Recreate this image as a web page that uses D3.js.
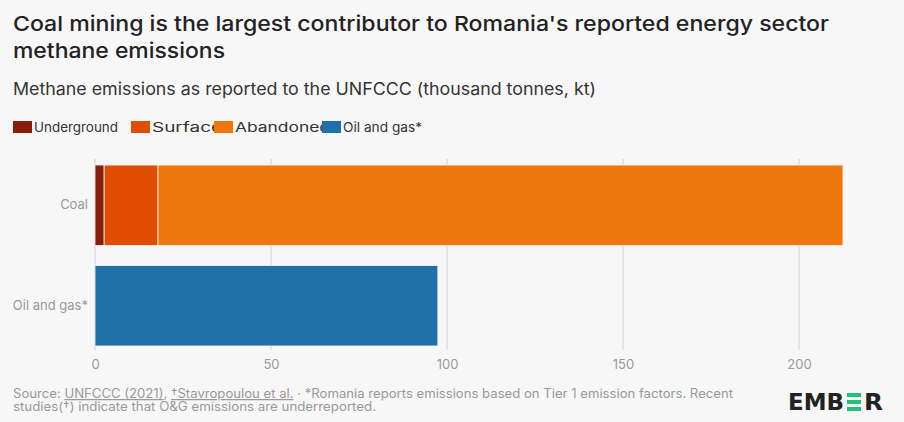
<!DOCTYPE html>
<html><head><meta charset="utf-8">
<script src="https://cdn.jsdelivr.net/npm/d3@7"></script>
<style>body{margin:0;background:#f7f7f7;font-family:Inter,"Noto Sans",sans-serif}</style>
</head><body><svg></svg>
<script>
var categories = ["Coal", "Oil and gas*"];
var series = ["Underground", "Surface", "Abandoned", "Oil and gas*"];
var colors = ["#8a1c0a", "#e04e03", "#ee760c", "#1f6fab"];
var underground = [2.6, 0];
var surface = [15.3, 0];
var abandoned = [194.6, 0];
var oilgas = [0, 97.4];
var xTicks = [0, 50, 100, 150, 200];

var W = 904, H = 422;
var svg = d3.select("svg").attr("width", W).attr("height", H);
svg.append("rect").attr("width", W).attr("height", H).attr("fill", "#f7f7f7");

svg.append("text").attr("x", 13).attr("y", 31).attr("font-size", 20.5).attr("fill", "#222").attr("font-weight", 500)
    .attr("textLength", 816).attr("lengthAdjust", "spacingAndGlyphs")
    .text("Coal mining is the largest contributor to Romania's reported energy sector");
svg.append("text").attr("x", 13).attr("y", 58).attr("font-size", 20.5).attr("fill", "#222").attr("font-weight", 500)
    .attr("textLength", 212).attr("lengthAdjust", "spacingAndGlyphs")
    .text("methane emissions");
svg.append("text").attr("x", 13).attr("y", 95).attr("font-size", 17).attr("fill", "#333")
    .attr("textLength", 583).attr("lengthAdjust", "spacingAndGlyphs")
    .text("Methane emissions as reported to the UNFCCC (thousand tonnes, kt)");

// legend
var lx = [13, 131, 214, 322];
var lw = [84, 70, 95, 79];
series.forEach(function(s, i) {
    var g = svg.append("g").attr("transform", "translate(" + lx[i] + ",121)");
    g.append("rect").attr("width", 19).attr("height", 12).attr("fill", colors[i]);
    g.append("text").attr("x", 21).attr("y", 11).attr("font-size", 13).attr("fill", "#333")
        .attr("textLength", lw[i]).attr("lengthAdjust", "spacingAndGlyphs").text(s);
});

var x = d3.scaleLinear().domain([0, 200]).range([95, 799]);
var y = d3.scaleBand().domain(categories).range([160, 351]).paddingInner(0.2).paddingOuter(0.05);

svg.append("g").selectAll("line").data(xTicks).enter().append("line")
    .attr("x1", function(d) { return x(d); }).attr("x2", function(d) { return x(d); })
    .attr("y1", 159).attr("y2", 350).attr("stroke", "#d6d6d6").attr("stroke-width", 1.2);

var rows = categories.map(function(c, i) {
    return { cat: c, Underground: underground[i], Surface: surface[i], Abandoned: abandoned[i], "Oil and gas*": oilgas[i] };
});
var stack = d3.stack().keys(series)(rows);
stack.forEach(function(layer, k) {
    svg.append("g").selectAll("rect").data(layer).enter().append("rect")
        .attr("x", function(d) { return x(d[0]); })
        .attr("width", function(d) { return Math.max(0, x(d[1]) - x(d[0])); })
        .attr("y", function(d) { return y(d.data.cat); })
        .attr("height", y.bandwidth())
        .attr("fill", colors[k])
        .attr("stroke", "#f7f7f7").attr("stroke-width", function(d) { return d[1] > d[0] ? 0.8 : 0; });
});

var ax = svg.append("g").attr("transform", "translate(0,350)")
    .call(d3.axisBottom(x).tickValues(xTicks).tickSize(0).tickPadding(10));
ax.select(".domain").remove();
ax.selectAll("text").attr("font-size", 13).attr("fill", "#999").attr("font-family", "Inter,'Noto Sans',sans-serif");

var ay = svg.append("g").attr("transform", "translate(88,0)")
    .call(d3.axisLeft(y).tickSize(0).tickPadding(0));
ay.select(".domain").remove();
ay.selectAll("text").attr("font-size", 13).attr("fill", "#999").attr("font-family", "Inter,'Noto Sans',sans-serif");

var src = svg.append("text").attr("x", 13).attr("y", 398).attr("font-size", 12.5).attr("fill", "#999")
    .attr("textLength", 720).attr("lengthAdjust", "spacingAndGlyphs");
src.append("tspan").text("Source: ");
src.append("tspan").attr("text-decoration", "underline").text("UNFCCC (2021)");
src.append("tspan").text(", ");
src.append("tspan").attr("text-decoration", "underline").text("\u2020Stavropoulou et al.");
src.append("tspan").text(" \u00b7 *Romania reports emissions based on Tier 1 emission factors. Recent");
svg.append("text").attr("x", 13).attr("y", 411).attr("font-size", 12.5).attr("fill", "#999")
    .attr("textLength", 363).attr("lengthAdjust", "spacingAndGlyphs")
    .text("studies(\u2020) indicate that O&G emissions are underreported.");

// logo
var logo = svg.append("g").attr("font-size", 23).attr("font-weight", 800).attr("fill", "#222").attr("font-family", "'DejaVu Sans',sans-serif");
logo.append("text").attr("x", 788).attr("y", 410).attr("textLength", 56).attr("lengthAdjust", "spacingAndGlyphs").text("EMB");
[0, 1, 2].forEach(function(i) {
    svg.append("rect").attr("x", 847).attr("y", 393 + i * 7).attr("width", 14).attr("height", 4).attr("fill", "#20c27a");
});
logo.append("text").attr("x", 864).attr("y", 410).attr("textLength", 19).attr("lengthAdjust", "spacingAndGlyphs").text("R");
</script></body></html>
